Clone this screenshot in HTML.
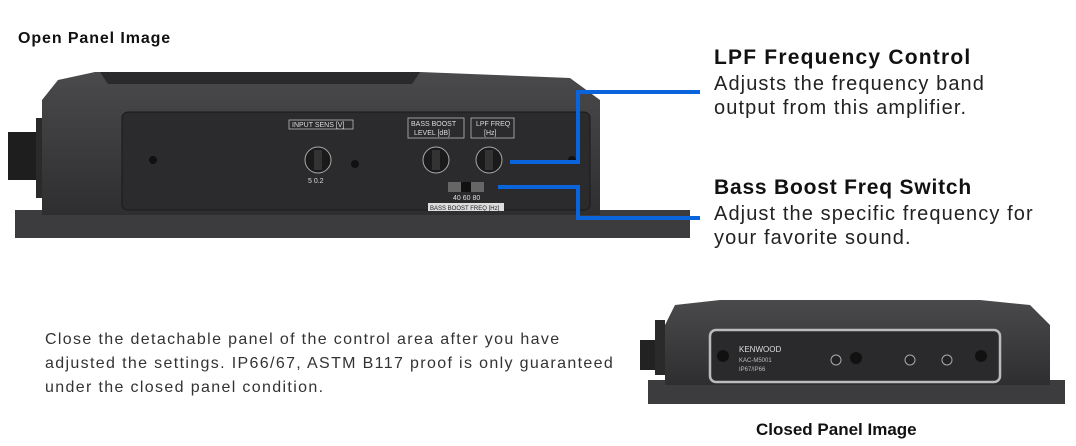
<!DOCTYPE html>
<html><head><style>
body{margin:0;width:1076px;height:446px;background:#fff;overflow:hidden;position:relative;font-family:"Liberation Sans",sans-serif}
.t{position:absolute;white-space:nowrap}
</style></head><body>
<svg width="1076" height="446" style="position:absolute;left:0;top:0">
<defs>
<linearGradient id="g" x1="0" y1="0" x2="0" y2="1"><stop offset="0" stop-color="#4a4a4c"/><stop offset="1" stop-color="#2e2e30"/></linearGradient>
</defs>
<rect x="8" y="132" width="30" height="48" fill="#1e1e1e"/>
<rect x="36" y="118" width="14" height="80" fill="#2a2a2a"/>
<path d="M15 210 L15 238 L690 238 L690 210 Z" fill="#3c3c3e"/>
<path d="M58 80 L95 72 L420 72 L570 78 L600 100 L600 215 L42 215 L42 100 Z" fill="url(#g)"/>
<path d="M100 72 L420 72 L412 84 L108 84 Z" fill="#2a2a2c"/>
<rect x="122" y="112" width="468" height="98" rx="6" fill="#2b2b2d" stroke="#1a1a1a"/>
<circle cx="153" cy="160" r="4" fill="#111"/><circle cx="355" cy="164" r="4" fill="#111"/><circle cx="572" cy="160" r="4" fill="#111"/>
<circle cx="318" cy="160" r="13" fill="#1a1a1a" stroke="#aaa" stroke-width="1"/><rect x="314" y="150" width="8" height="20" fill="#333"/>
<circle cx="436" cy="160" r="13" fill="#1a1a1a" stroke="#aaa"/><rect x="432" y="150" width="8" height="20" fill="#333"/>
<circle cx="489" cy="160" r="13" fill="#1a1a1a" stroke="#aaa"/><rect x="485" y="150" width="8" height="20" fill="#333"/>
<rect x="448" y="182" width="36" height="10" fill="#666"/><rect x="461" y="182" width="10" height="10" fill="#111"/>
<rect x="289" y="120" width="64" height="9" fill="none" stroke="#bbb" stroke-width=".8"/>
<rect x="408" y="118" width="56" height="20" fill="none" stroke="#bbb" stroke-width=".8"/>
<rect x="471" y="118" width="43" height="20" fill="none" stroke="#bbb" stroke-width=".8"/>
<rect x="428" y="203" width="76" height="8" fill="#ddd"/>
<g font-size="7" fill="#ddd" font-family="Liberation Sans">
<text x="292" y="127">INPUT SENS [V]</text><text x="411" y="126">BASS BOOST</text><text x="414" y="135">LEVEL [dB]</text>
<text x="476" y="126">LPF FREQ</text><text x="484" y="135">[Hz]</text>
<text x="308" y="183">5  0.2</text><text x="453" y="200">40  60  80</text></g>
<text x="430" y="210" font-size="6" fill="#222">BASS BOOST FREQ [Hz]</text>
<g stroke="#0a64dc" stroke-width="4" fill="none">
<path d="M510 162 H578 V92 H700"/><path d="M498 187 H578 V218 H700"/></g>
<rect x="640" y="340" width="18" height="30" fill="#222"/><rect x="655" y="320" width="10" height="55" fill="#2a2a2a"/>
<rect x="648" y="380" width="417" height="24" fill="#3c3c3e"/>
<path d="M675 305 L720 300 L980 300 L1030 305 L1050 325 L1050 385 L665 385 L665 325 Z" fill="url(#g)"/>
<rect x="710" y="330" width="290" height="52" rx="6" fill="#2a2a2c" stroke="#bbb" stroke-width="2.5"/>
<circle cx="723" cy="356" r="6" fill="#111"/><circle cx="856" cy="358" r="6" fill="#111"/><circle cx="981" cy="356" r="6" fill="#111"/>
<circle cx="836" cy="360" r="5" fill="#222" stroke="#aaa"/><circle cx="910" cy="360" r="5" fill="#222" stroke="#aaa"/><circle cx="947" cy="360" r="5" fill="#222" stroke="#aaa"/>
<text x="739" y="352" font-size="8" fill="#ddd">KENWOOD</text>
<text x="739" y="362" font-size="6" fill="#bbb">KAC-M5001</text>
<text x="739" y="371" font-size="6" fill="#bbb">IP67/IP66</text>
</svg>
<div class="t" style="left:18px;top:30px;font-size:16px;font-weight:bold;letter-spacing:0.9px;color:#111">Open Panel Image</div>
<div class="t" style="left:714px;top:46px;font-size:21px;font-weight:bold;letter-spacing:1.2px;color:#111">LPF Frequency Control</div>
<div class="t" style="left:714px;top:72px;font-size:20px;letter-spacing:1.1px;color:#222;line-height:24px">Adjusts the frequency band<br>output from this amplifier.</div>
<div class="t" style="left:714px;top:176px;font-size:21px;font-weight:bold;letter-spacing:0.8px;color:#111">Bass Boost Freq Switch</div>
<div class="t" style="left:714px;top:202px;font-size:20px;letter-spacing:1.1px;color:#222;line-height:24px">Adjust the specific frequency for<br>your favorite sound.</div>
<div class="t" style="left:45px;top:328px;font-size:16px;letter-spacing:1.35px;color:#333;line-height:24px">Close the detachable panel of the control area after you have<br>adjusted the settings. IP66/67, ASTM B117 proof is only guaranteed<br>under the closed panel condition.</div>
<div class="t" style="left:756px;top:420px;font-size:17px;font-weight:bold;color:#111">Closed Panel Image</div>
</body></html>
